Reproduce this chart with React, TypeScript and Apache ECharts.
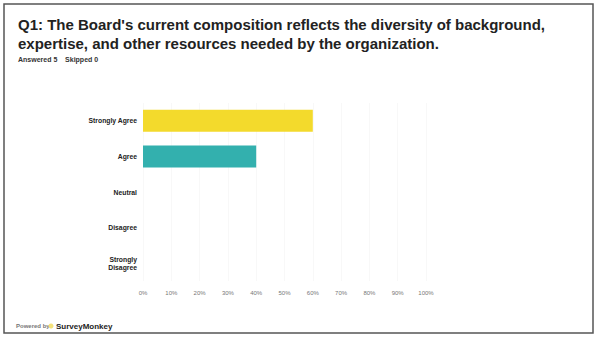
import React, { useEffect, useRef } from "react";
import * as echarts from "echarts";

const categories = ["Strongly Agree", "Agree", "Neutral", "Disagree", "Strongly\nDisagree"];
const percentValues = [60, 40, 0, 0, 0];
const barColors = ["#f3da2c", "#33b0ae", "#cccccc", "#cccccc", "#cccccc"];
const xTicks = [0, 10, 20, 30, 40, 50, 60, 70, 80, 90, 100];
const titleLines = [
  "Q1: The Board's current composition reflects the diversity of background,",
  "expertise, and other resources needed by the organization.",
];
const answeredText = "Answered 5    Skipped 0";

export default function App() {
  const ref = useRef<HTMLDivElement>(null);
  useEffect(() => {
    if (!ref.current) return;
    const chart = echarts.init(ref.current, null, { renderer: "svg" });
    chart.setOption({
      animation: false,
      backgroundColor: "#ffffff",
      grid: { left: 143, right: 171, top: 103, bottom: 58, containLabel: false },
      xAxis: {
        type: "value",
        min: 0,
        max: 100,
        interval: 10,
        axisLine: { show: false },
        axisTick: { show: false },
        splitLine: { show: true, lineStyle: { color: "#f8f8f8", width: 1 } },
        axisLabel: {
          formatter: (v: number) => (xTicks.includes(v) ? v + "%" : ""),
          color: "#777",
          fontSize: 6,
          fontFamily: "Liberation Sans, Arial, sans-serif",
          margin: 9,
        },
      },
      yAxis: {
        type: "category",
        data: categories,
        inverse: true,
        axisLine: { show: false },
        axisTick: { show: false },
        axisLabel: {
          color: "#222",
          fontSize: 6.8,
          fontWeight: "bold",
          lineHeight: 8,
          fontFamily: "Liberation Sans, Arial, sans-serif",
          margin: 6,
        },
      },
      series: [
        {
          type: "bar",
          data: percentValues.map((v, i) => ({ value: v, itemStyle: { color: barColors[i] } })),
          barWidth: 22,
        },
      ],
      graphic: [
        {
          type: "rect",
          shape: { x: 4, y: 4, width: 589, height: 329 },
          style: { fill: "none", stroke: "#555", lineWidth: 1.5 },
          z: 10,
        },
        {
          type: "text",
          left: 18,
          top: 15,
          style: {
            text: titleLines.join("\n"),
            font: "bold 15px 'Liberation Sans', Arial, sans-serif",
            lineHeight: 19,
            fill: "#222",
          },
        },
        {
          type: "text",
          left: 18,
          top: 56,
          style: {
            text: answeredText,
            font: "bold 7px 'Liberation Sans', Arial, sans-serif",
            fill: "#333",
          },
        },
        {
          type: "text",
          left: 16,
          top: 323,
          style: {
            text: "Powered by",
            font: "bold 6px 'Liberation Sans', Arial, sans-serif",
            fill: "#777",
          },
        },
        {
          type: "circle",
          shape: { cx: 51, cy: 326, r: 2.5 },
          style: { fill: "#f5e27a" },
        },
        {
          type: "text",
          left: 56,
          top: 322,
          style: {
            text: "SurveyMonkey",
            font: "bold 8px 'Liberation Sans', Arial, sans-serif",
            fill: "#222",
          },
        },
      ],
    });
    return () => chart.dispose();
  }, []);
  return (
    <div
      ref={ref}
      style={{ position: "fixed", left: 0, top: 0, width: 597, height: 339, background: "#fff" }}
    />
  );
}
